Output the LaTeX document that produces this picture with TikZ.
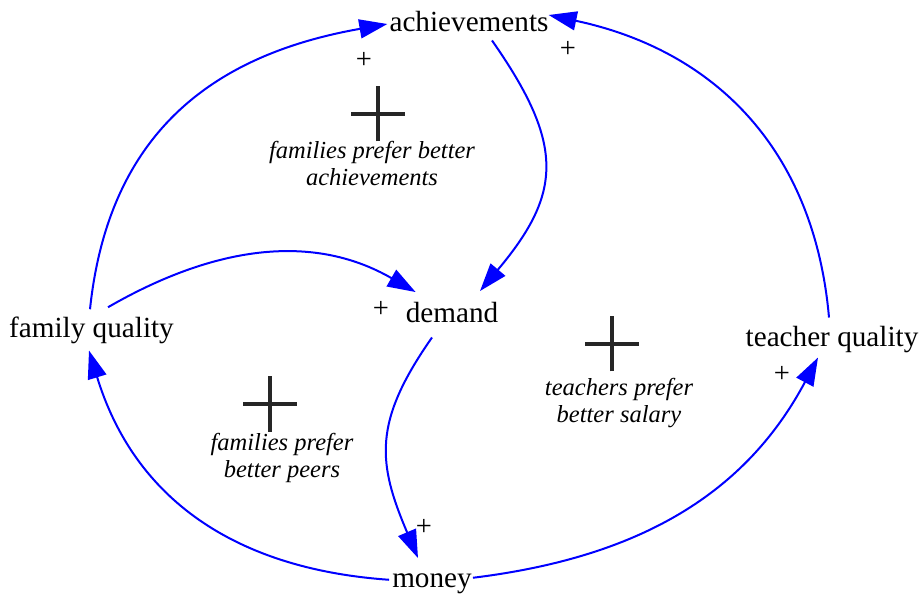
\documentclass[tikz,border=0pt]{standalone}
\usepackage{fontspec}
\setmainfont{Liberation Serif}
\usetikzlibrary{arrows.meta}
\begin{document}
\begin{tikzpicture}[x=1pt,y=1pt,
  var/.style={inner sep=3pt, font=\fontsize{29.2}{34}\selectfont, anchor=base},
  pol/.style={inner sep=0pt, font=\fontsize{28.5}{34}\selectfont},
  loopname/.style={inner sep=0pt, font=\fontsize{24.5}{27}\selectfont\itshape, anchor=base},
  link/.style={draw=blue, line width=2pt, -{Triangle[length=28pt,width=19pt]}},
  loopplus/.pic={\draw[line width=4pt, black!85] (-27,0) -- (27,0) (0,-27.5) -- (0,27.5);}
]
\useasboundingbox (0,0) rectangle (921,595);
% variables
\node[var] (ach) at (469,563) {achievements};
\node[var] (dem) at (452,272) {demand};
\node[var] (fq) at (91.5,257) {family quality};
\node[var] (tq) at (832,248) {teacher quality};
\node[var] (mon) at (432,8) {money};
% link polarities
\node[pol] (p1) at (364,535) {+};
\node[pol] (p2) at (568,546) {+};
\node[pol] (p3) at (381,286) {+};
\node[pol] (p4) at (424,68) {+};
\node[pol] (p5) at (782,221) {+};
% loop markers
\pic at (378,481) {loopplus};
\pic at (270,191) {loopplus};
\pic at (612,251) {loopplus};
\node[loopname] (l1a) at (372,436) {families prefer better};
\node[loopname] (l1b) at (372,409) {achievements};
\node[loopname] (l2a) at (619,200) {teachers prefer};
\node[loopname] (l2b) at (619,172) {better salary};
\node[loopname] (l3a) at (282,145) {families prefer};
\node[loopname] (l3b) at (282,118) {better peers};
% links
\draw[link] ([shift={(-1.5,5)}]fq.north) to[out=84,in=190,looseness=1.1] ([shift={(1,-2)}]ach.west);
\draw[link] ([shift={(-3,6)}]tq.north) to[out=95,in=-12,looseness=1.05] ([shift={(-3,7)}]ach.east);
\draw[link] ([shift={(23,-5)}]ach.south) to[out=-55,in=50,looseness=1.3] ([shift={(28,8.5)}]dem.north);
\draw[link] ([shift={(16.5,7)}]fq.north) to[out=30,in=150] ([shift={(13,7.5)}]dem.north west);
\draw[link] ([shift={(-20,-11)}]dem.south) to[out=-125,in=113,looseness=1.2] ([shift={(-14,12)}]mon.north);
\draw[link] ([shift={(0,3.5)}]mon.west) to[out=176,in=-73,looseness=1.05] ([shift={(-2.5,-3)}]fq.south);
\draw[link] ([shift={(-2,5.5)}]mon.east) to[out=7,in=242,looseness=1.0] ([shift={(-14,-1)}]tq.south);
\end{tikzpicture}
\end{document}
